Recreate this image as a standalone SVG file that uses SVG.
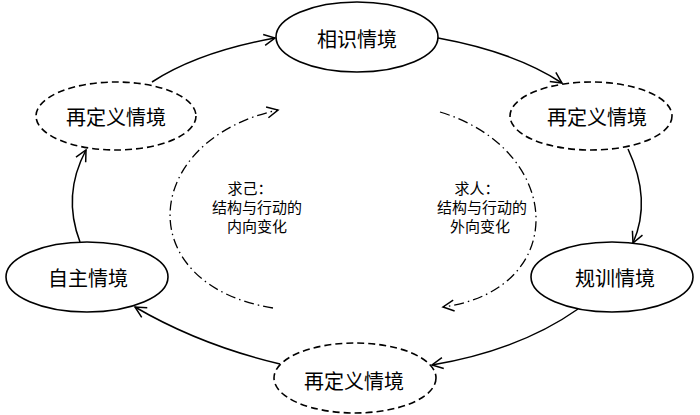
<svg xmlns="http://www.w3.org/2000/svg" width="700" height="415" viewBox="0 0 700 415">
<style>
.node{fill:#fff;stroke:#000;stroke-width:1.6}
.dash{stroke-dasharray:7 4}
.lbl{font-family:"Noto Sans CJK SC","Noto Sans",sans-serif;font-size:20px;text-anchor:middle;fill:#000}
.inner{font-family:"Noto Sans CJK SC","Noto Sans",sans-serif;font-size:15px;text-anchor:middle;fill:#000}
.conn{fill:none;stroke:#000;stroke-width:1.5;marker-end:url(#arr)}
.dd{fill:none;stroke:#000;stroke-width:1.3;stroke-dasharray:10 4 1.5 4;marker-end:url(#arr)}
</style>
<defs>
<marker id="arr" markerUnits="userSpaceOnUse" markerWidth="14" markerHeight="14" viewBox="0 0 14 14" refX="12" refY="7" orient="auto">
<path d="M1,1.5 L12,7 L1,12.5" fill="none" stroke="#000" stroke-width="1.5" stroke-dasharray="none"/>
</marker>
</defs>
<g id="connectors">
<path class="conn" d="M152,82 Q198,52 275,38"/>
<path class="conn" d="M438,38 Q515,52 562,83"/>
<path class="conn" d="M628,149 Q652,200 633,243"/>
<path class="conn" d="M578,309 Q520,350 432,365"/>
<path class="conn" d="M280,364 Q200,345 135,307"/>
<path class="conn" d="M80,242 Q62,195 86,150"/>
<path class="dd" d="M273,308 C130,285 140,140 278,110"/>
<path class="dd" d="M440,112 C565,150 570,290 443,307"/>
</g>
<g id="n-xiangshi">
<ellipse class="node" cx="357" cy="37" rx="81" ry="35"/>
<text class="lbl" x="357" y="47">相识情境</text>
</g>
<g id="n-redef-tr">
<ellipse class="node dash" cx="591" cy="116" rx="81" ry="34"/>
<text class="lbl" x="597" y="125">再定义情境</text>
</g>
<g id="n-guixun">
<ellipse class="node" cx="612" cy="277" rx="81" ry="35"/>
<text class="lbl" x="615" y="286">规训情境</text>
</g>
<g id="n-redef-b">
<ellipse class="node dash" cx="355" cy="378" rx="81" ry="35"/>
<text class="lbl" x="354" y="389">再定义情境</text>
</g>
<g id="n-zizhu">
<ellipse class="node" cx="87" cy="277" rx="81" ry="35"/>
<text class="lbl" x="88" y="286">自主情境</text>
</g>
<g id="n-redef-tl">
<ellipse class="node dash" cx="116" cy="116" rx="80" ry="34"/>
<text class="lbl" x="116" y="125">再定义情境</text>
</g>
<g id="t-left">
<text class="inner" x="250" y="194">求己：</text>
<text class="inner" x="257" y="213">结构与行动的</text>
<text class="inner" x="257" y="232">内向变化</text>
</g>
<g id="t-right">
<text class="inner" x="477" y="194">求人：</text>
<text class="inner" x="482" y="213">结构与行动的</text>
<text class="inner" x="480" y="232">外向变化</text>
</g>
</svg>
